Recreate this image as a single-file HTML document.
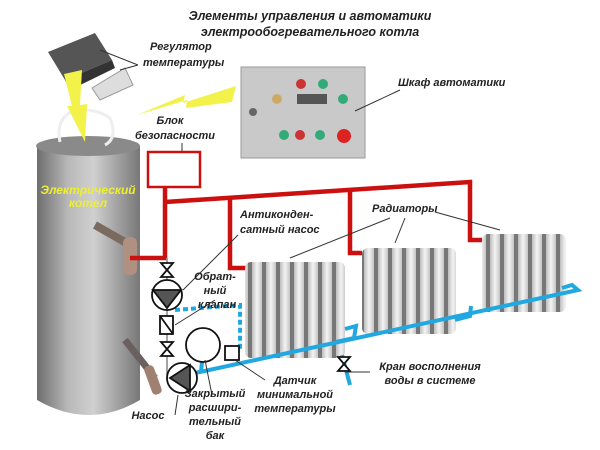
<!DOCTYPE html>
<html><head><meta charset="utf-8"><style>
html,body{margin:0;padding:0;background:#fff;width:600px;height:450px;overflow:hidden}
text{font-family:"Liberation Sans","DejaVu Sans",sans-serif;font-style:italic;font-weight:bold;fill:#222}
</style></head><body>
<svg width="600" height="450" viewBox="0 0 600 450" xmlns="http://www.w3.org/2000/svg">
<defs>
<linearGradient id="cyl" x1="0" x2="1"><stop offset="0" stop-color="#6e6e6e"/><stop offset=".3" stop-color="#b8b8b8"/><stop offset=".55" stop-color="#d0d0d0"/><stop offset="1" stop-color="#777"/></linearGradient>
<linearGradient id="rad" x1="0" x2="1"><stop offset="0" stop-color="#bdbdbd"/><stop offset=".5" stop-color="#f4f4f4"/><stop offset="1" stop-color="#c4c4c4"/></linearGradient>
<pattern id="fins" width="14" height="10" patternUnits="userSpaceOnUse"><rect width="14" height="10" fill="#777"/><rect x="0" width="10" height="10" fill="url(#rad)"/></pattern>
</defs>
<text x="310" y="20" font-size="12.5" text-anchor="middle">Элементы управления и автоматики</text>
<text x="310" y="36" font-size="12.5" text-anchor="middle">электрообогревательного котла</text>
<!-- boiler -->
<path d="M37 146 L140 146 L140 400 Q89 430 37 400 Z" fill="url(#cyl)"/>
<ellipse cx="88" cy="146" rx="52" ry="10" fill="#8a8a8a"/>
<path d="M60 142 Q55 118 75 110 Q95 108 110 118 Q118 138 105 145" fill="none" stroke="#eee" stroke-width="3"/>
<path d="M95 225 L130 245" stroke="#7a6a60" stroke-width="8"/>
<rect x="123" y="237" width="14" height="38" rx="6" fill="#b09080"/>
<path d="M125 340 L155 378" stroke="#6a6060" stroke-width="7"/>
<rect x="148" y="365" width="10" height="30" rx="4" fill="#a08070" transform="rotate(-20 153 380)"/>
<text x="88" y="194" font-size="12" text-anchor="middle" style="fill:#eeee33">Электрический</text>
<text x="88" y="207" font-size="12" text-anchor="middle" style="fill:#eeee33">котел</text>
<!-- regulator -->
<polygon points="48,52 95,33 112,60 65,80" fill="#555"/>
<polygon points="65,80 112,60 115,68 70,90" fill="#333"/>
<polygon points="92,88 125,68 133,85 100,100" fill="#ddd" stroke="#999"/>
<polygon points="64,74 82,70 80,105 87,104 85,142 67,106 72,106" fill="#f2f24a"/>
<polygon points="137,115 185,95 183,103 236,86 232,102 186,108 187,100" fill="#f2f24a"/>
<line x1="100" y1="50" x2="138" y2="65" stroke="#333"/><line x1="120" y1="70" x2="138" y2="65" stroke="#333"/>
<text x="150" y="50" font-size="11">Регулятор</text>
<text x="143" y="66" font-size="11">температуры</text>
<text x="170" y="124" font-size="11" text-anchor="middle">Блок</text>
<text x="175" y="139" font-size="11" text-anchor="middle">безопасности</text>
<line x1="182" y1="143" x2="182" y2="152" stroke="#333"/>
<!-- cabinet -->
<rect x="241" y="67" width="124" height="91" fill="#c9c9c9" stroke="#999"/>
<rect x="297" y="94" width="30" height="10" fill="#555"/>
<circle cx="301" cy="84" r="5" fill="#c33"/><circle cx="323" cy="84" r="5" fill="#3a7"/>
<circle cx="277" cy="99" r="5" fill="#ca6"/><circle cx="343" cy="99" r="5" fill="#3a7"/>
<circle cx="284" cy="135" r="5" fill="#3a7"/><circle cx="300" cy="135" r="5" fill="#c33"/>
<circle cx="320" cy="135" r="5" fill="#3a7"/><circle cx="344" cy="136" r="7" fill="#d22"/>
<circle cx="253" cy="112" r="4" fill="#666"/>
<line x1="355" y1="111" x2="400" y2="90" stroke="#333"/>
<text x="398" y="86" font-size="11">Шкаф автоматики</text>
<!-- red pipes -->
<g stroke="#cc1010" stroke-width="4.5" fill="none">
<rect x="148" y="152" width="52" height="35" stroke-width="2.5" fill="#fff"/>
<path d="M165 187 L165 258 L130 258"/>
<path d="M165 202 L470 182 L470 240 L482 240"/>
<path d="M230 198 L230 268 L248 268"/>
<path d="M350 190 L350 253 L362 253"/>
</g>
<!-- radiators -->
<rect x="245" y="262" width="100" height="96" rx="6" fill="url(#fins)"/>
<rect x="362" y="248" width="94" height="86" rx="6" fill="url(#fins)"/>
<rect x="482" y="234" width="84" height="78" rx="6" fill="url(#fins)"/>
<!-- blue pipes -->
<g stroke="#22a8e0" stroke-width="4" fill="none">
<path d="M178 375 L200 372 L578 290 L572 285 L562 288"/>
<path d="M336 342 L354 338 L356 326 L345 329"/>
<path d="M455 320 L470 316 L471 306"/>
<path d="M342 355 L350 385"/>
<path d="M201 372 L203 352" />
<path d="M175 310 L240 305 L240 350" stroke-dasharray="5 3"/>
</g>
<!-- symbols -->
<g stroke="#111" stroke-width="1.8" fill="#fff">
<line x1="167" y1="258" x2="167" y2="375" stroke="#999"/>
<polygon points="161,263 173,263 161,277 173,277"/>
<circle cx="167" cy="295" r="15"/>
<polygon points="153,290 181,290 167,308" fill="#555"/>
<rect x="160" y="316" width="13" height="18"/>
<line x1="160" y1="316" x2="173" y2="334"/>
<polygon points="161,342 173,342 161,356 173,356"/>
<circle cx="182" cy="378" r="15"/>
<polygon points="170,378 190,365 190,391" fill="#555"/>
<circle cx="203" cy="345" r="17"/>
<rect x="225" y="346" width="14" height="14"/>
<polygon points="338,357 350,357 338,371 350,371"/>
</g>
<!-- leaders -->
<g stroke="#333" stroke-width="1">
<line x1="238" y1="235" x2="183" y2="290"/>
<line x1="215" y1="300" x2="175" y2="325"/>
<line x1="178" y1="395" x2="175" y2="415"/>
<line x1="205" y1="360" x2="212" y2="395"/>
<line x1="235" y1="360" x2="265" y2="380"/>
<line x1="345" y1="372" x2="370" y2="372"/>
<line x1="390" y1="218" x2="290" y2="258"/>
<line x1="405" y1="218" x2="395" y2="243"/>
<line x1="435" y1="212" x2="500" y2="230"/>
</g>
<text x="240" y="218" font-size="11">Антиконден-</text>
<text x="240" y="233" font-size="11">сатный насос</text>
<text x="372" y="212" font-size="11">Радиаторы</text>
<text x="215" y="280" font-size="11" text-anchor="middle">Обрат-</text>
<text x="215" y="294" font-size="11" text-anchor="middle">ный</text>
<text x="217" y="308" font-size="11" text-anchor="middle">клапан</text>
<text x="148" y="419" font-size="11" text-anchor="middle">Насос</text>
<text x="215" y="397" font-size="11" text-anchor="middle">Закрытый</text>
<text x="215" y="411" font-size="11" text-anchor="middle">расшири-</text>
<text x="215" y="425" font-size="11" text-anchor="middle">тельный</text>
<text x="215" y="439" font-size="11" text-anchor="middle">бак</text>
<text x="295" y="384" font-size="11" text-anchor="middle">Датчик</text>
<text x="295" y="398" font-size="11" text-anchor="middle">минимальной</text>
<text x="295" y="412" font-size="11" text-anchor="middle">температуры</text>
<text x="430" y="370" font-size="11" text-anchor="middle">Кран восполнения</text>
<text x="430" y="384" font-size="11" text-anchor="middle">воды в системе</text>
</svg>
</body></html>
